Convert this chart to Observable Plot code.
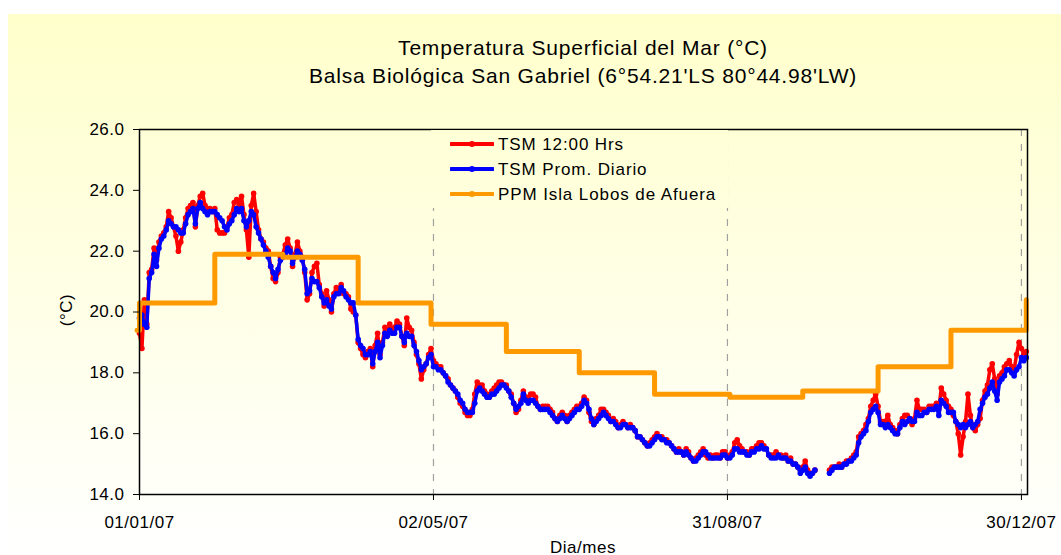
<!DOCTYPE html>
<html><head><meta charset="utf-8">
<script src="https://cdn.jsdelivr.net/npm/d3@7"></script>
<script src="https://cdn.jsdelivr.net/npm/@observablehq/plot@0.6"></script>
<style>
html,body{margin:0;padding:0;background:#fff;}
body{width:1061px;height:555px;overflow:hidden;position:relative;font-family:Arial,"Liberation Sans",sans-serif;color:#000;}
.grad{background:linear-gradient(to bottom,#FFFFCC 0px,#FFFFCC 20px,#FFFFFF 555px);background-attachment:fixed;}
#bg{position:absolute;left:8px;top:14px;width:1053px;height:541px;}
#title{position:absolute;left:139px;width:888px;top:34px;text-align:center;font-size:21px;line-height:28px;letter-spacing:0.8px;white-space:nowrap;}
#chart{position:absolute;left:0;top:0;}
#legend{position:absolute;left:431px;top:130px;width:297px;height:78px;}
#legend .row{position:absolute;left:19px;height:25px;line-height:25px;font-size:17px;letter-spacing:0.9px;white-space:nowrap;}
#legend svg{vertical-align:middle;margin-right:4px;position:relative;top:-2px;}
#xlab{position:absolute;left:139px;width:888px;top:539px;text-align:center;font-size:17px;line-height:17px;letter-spacing:0.5px;}
#ylab{position:absolute;left:37px;top:300px;width:60px;height:20px;line-height:20px;text-align:center;font-size:17px;letter-spacing:0.5px;transform:rotate(-90deg);}
</style></head>
<body>
<div id="bg" class="grad"></div>
<div id="title">Temperatura Superficial del Mar (°C)<br>Balsa Biológica San Gabriel (6°54.21'LS 80°44.98'LW)</div>
<div id="chart"></div>
<div id="legend" class="grad"></div>
<div id="xlab">Dia/mes</div>
<div id="ylab">(°C)</div>
<script>
// Daily series starting 01/01/2007 (index = day number)
const startDate = [2007, 0, 1];
const tsm1200 = [
19.3,18.8,20.4,19.6,21.3,21.4,22.1,21.7,22.3,22.5,
22.6,22.8,23.3,23.1,22.8,22.5,22.0,22.3,22.7,23.1,
23.4,23.5,23.6,22.8,23.5,23.8,23.9,23.5,23.4,23.4,
23.3,23.4,22.7,22.6,22.6,22.6,22.8,23.1,23.2,23.6,
23.7,23.5,23.8,23.2,22.7,21.8,23.5,23.9,23.3,22.7,
22.4,22.3,22.1,22.0,21.5,21.1,21.0,21.3,21.8,21.9,
22.2,22.4,22.1,21.5,21.9,22.3,22.0,21.8,21.3,20.4,
20.6,21.3,21.5,21.6,20.9,20.6,20.2,20.7,20.4,20.0,
20.6,20.8,20.7,20.9,20.6,20.6,20.5,20.1,20.0,19.9,
19.0,18.8,18.6,18.5,18.7,18.8,18.2,18.9,19.3,18.6,
19.0,19.5,19.3,19.6,19.4,19.5,19.7,19.6,19.2,18.9,
19.8,19.5,19.4,19.0,18.6,18.3,17.8,18.1,18.3,18.6,
18.8,18.4,18.3,18.2,18.2,18.0,17.9,17.8,17.6,17.5,
17.4,17.2,17.0,16.9,16.7,16.6,16.6,16.8,17.3,17.7,
17.6,17.6,17.4,17.3,17.2,17.4,17.5,17.6,17.7,17.7,
17.6,17.6,17.4,17.3,17.0,16.7,16.8,17.1,17.4,17.2,
17.1,17.3,17.3,17.2,16.9,16.8,16.9,16.9,16.9,16.8,
16.7,16.5,16.4,16.6,16.7,16.6,16.4,16.6,16.7,16.8,
16.9,16.9,17.0,17.2,17.1,16.7,16.4,16.3,16.5,16.6,
16.8,16.8,16.7,16.6,16.4,16.5,16.4,16.2,16.3,16.4,
16.3,16.2,16.3,16.2,16.1,15.9,15.9,15.8,15.7,15.6,
15.7,15.8,15.9,16.0,15.9,15.9,15.8,15.8,15.7,15.6,
15.5,15.4,15.5,15.4,15.3,15.5,15.4,15.2,15.1,15.2,
15.3,15.4,15.5,15.3,15.2,15.3,15.2,15.3,15.3,15.2,
15.4,15.4,15.2,15.3,15.4,15.7,15.8,15.6,15.5,15.4,
15.4,15.3,15.5,15.5,15.6,15.7,15.7,15.6,15.5,15.3,
15.3,15.3,15.4,15.3,15.3,15.2,15.3,15.1,15.2,15.0,
15.0,14.9,14.8,14.9,15.1,14.8,14.7,14.7,14.8,null,
null,null,null,null,14.8,14.9,14.9,14.9,15.0,14.9,
15.0,15.1,15.1,15.2,15.3,15.4,15.9,16.0,16.1,16.3,
16.5,16.9,17.1,17.3,16.9,16.4,16.4,16.4,16.6,16.3,
16.2,16.1,16.0,16.3,16.5,16.6,16.6,16.5,16.3,16.5,
17.1,16.8,16.8,16.8,16.7,16.9,16.9,16.9,17.0,16.8,
17.5,17.3,17.1,16.9,16.8,16.6,16.4,16.0,15.3,15.9,
16.4,17.3,16.6,16.2,16.1,16.3,16.5,17.1,17.4,17.6,
18.1,18.3,17.8,17.3,17.9,18.0,18.2,18.3,18.4,18.2,
18.1,18.6,19.0,18.8,18.6,18.7
];
const tsmPromDiario = [
19.8,19.9,19.6,19.5,21.1,21.3,21.9,21.5,22.1,22.4,
22.5,22.7,23.0,22.9,22.8,22.8,22.7,22.6,22.6,22.9,
23.2,23.3,23.4,22.9,23.4,23.6,23.4,23.3,23.2,23.3,
23.3,23.3,23.2,23.1,23.0,22.8,22.7,22.9,23.0,23.2,
23.4,23.3,23.4,23.0,22.8,23.0,23.3,23.2,22.8,22.6,
22.4,22.2,22.0,21.8,21.5,21.3,21.1,21.4,21.7,21.8,
21.9,22.1,22.0,21.6,21.8,22.0,21.9,21.7,21.4,20.6,
20.7,21.1,21.0,21.0,20.8,20.5,20.3,20.4,20.2,20.1,
20.5,20.6,20.6,20.8,20.7,20.5,20.4,20.3,20.3,19.9,
19.1,18.9,18.8,18.6,18.6,18.7,18.3,18.7,19.0,18.5,
18.9,19.3,19.2,19.4,19.3,19.3,19.5,19.5,19.2,19.0,
19.3,19.2,19.2,18.9,18.7,18.4,18.1,18.2,18.3,18.5,
18.6,18.2,18.2,18.1,18.1,18.0,17.9,17.7,17.6,17.5,
17.4,17.3,17.1,17.0,16.8,16.7,16.7,16.7,17.0,17.4,
17.5,17.4,17.3,17.2,17.2,17.3,17.3,17.4,17.5,17.6,
17.6,17.5,17.4,17.2,17.0,16.8,16.9,17.0,17.3,17.1,
17.0,17.1,17.1,17.0,16.9,16.8,16.8,16.8,16.8,16.7,
16.6,16.5,16.4,16.5,16.6,16.5,16.4,16.5,16.6,16.7,
16.8,16.8,16.9,17.1,17.0,16.8,16.5,16.3,16.4,16.5,
16.6,16.7,16.6,16.5,16.4,16.4,16.3,16.2,16.2,16.3,
16.3,16.2,16.2,16.2,16.1,15.9,15.9,15.8,15.7,15.6,
15.6,15.7,15.8,15.9,15.9,15.8,15.8,15.7,15.7,15.6,
15.5,15.4,15.4,15.4,15.3,15.4,15.3,15.2,15.1,15.1,
15.2,15.3,15.4,15.4,15.3,15.2,15.2,15.2,15.2,15.2,
15.3,15.3,15.2,15.2,15.3,15.5,15.5,15.4,15.4,15.4,
15.3,15.3,15.4,15.4,15.5,15.5,15.6,15.5,15.5,15.3,
15.2,15.2,15.2,15.3,15.2,15.2,15.2,15.1,15.1,15.0,
15.0,14.9,14.7,14.8,14.9,14.7,14.6,14.7,14.8,null,
null,null,null,null,14.7,14.8,14.9,14.9,14.9,14.9,
15.0,15.0,15.1,15.1,15.2,15.3,15.7,15.9,16.0,16.1,
16.4,16.7,16.8,16.9,16.7,16.3,16.3,16.2,16.3,16.2,
16.1,16.0,16.0,16.2,16.4,16.3,16.4,16.5,16.4,16.4,
16.7,16.6,16.6,16.7,16.7,16.8,16.8,16.8,16.9,16.6,
17.1,17.0,16.9,16.7,16.7,16.7,16.4,16.3,16.2,16.3,
16.2,16.3,16.4,16.2,16.3,16.4,16.8,17.0,17.2,17.3,
17.5,17.7,17.4,17.1,17.7,17.8,17.9,18.1,18.1,18.0,
17.9,18.1,18.2,18.5,18.4,18.5
];
// PPM Isla Lobos de Afuera (monthly pattern, step series)
const ppmDates = ["2006-12-31","2007-01-01","2007-02-01","2007-03-01","2007-04-01","2007-05-01","2007-06-01","2007-07-01","2007-08-01","2007-09-01","2007-10-01","2007-11-01","2007-12-01","2008-01-01"];
const ppmValues = [19.4,20.3,21.9,21.8,20.3,19.6,18.7,18.0,17.3,17.2,17.4,18.2,19.4,20.4];
// Axes
const xTickDates = ["2007-01-01","2007-05-02","2007-08-31","2007-12-30"];
const yTicks = [14,16,18,20,22,24,26];
const seriesNames = ["TSM 12:00 Hrs","TSM Prom. Diario","PPM Isla Lobos de Afuera"];
const seriesColors = ["#FF0000","#0000FF","#FF9900"];

const dayDate = i => new Date(Date.UTC(startDate[0], startDate[1], startDate[2] + i));
const red = tsm1200.map((v,i)=>({date:dayDate(i), v}));
const blue = tsmPromDiario.map((v,i)=>({date:dayDate(i), v}));
const ppm = ppmDates.map((d,i)=>({date:new Date(d+"T00:00:00Z"), v:ppmValues[i]}));
const xt = xTickDates.map(d=>new Date(d+"T00:00:00Z"));

const chart = Plot.plot({
  width:1061, height:555,
  marginLeft:139, marginRight:34, marginTop:129, marginBottom:61,
  style:{background:"transparent", fontFamily:"Arial, 'Liberation Sans', sans-serif", fontSize:"17px", color:"#000", overflow:"visible", letterSpacing:"0.5px"},
  x:{type:"utc", domain:[new Date(Date.UTC(2007,0,1)), new Date(Date.UTC(2008,0,1,12))]},
  y:{domain:[14,26]},
  marks:[
    Plot.ruleX(xt.slice(1), {stroke:"#a0a0a0", strokeWidth:1.2, strokeDasharray:"7,8"}),
    Plot.line(red, {x:"date", y:"v", stroke:seriesColors[0], strokeWidth:3.5}),
    Plot.dot(red, {x:"date", y:"v", fill:seriesColors[0], r:2.8, stroke:null}),
    Plot.line(blue, {x:"date", y:"v", stroke:seriesColors[1], strokeWidth:3.5}),
    Plot.dot(blue, {x:"date", y:"v", fill:seriesColors[1], r:2.8, stroke:null}),
    Plot.line(ppm, {x:"date", y:"v", curve:"step-after", stroke:seriesColors[2], strokeWidth:5, clip:false}),
    Plot.frame({stroke:"#000", strokeWidth:1.5}),
    Plot.axisX({ticks:xt, tickFormat:d3.utcFormat("%d/%m/%y"), tickSize:6, tickPadding:15, label:null}),
    Plot.axisY({ticks:yTicks, tickFormat:d=>d.toFixed(1), tickSize:6, tickPadding:9, label:null})
  ]
});
document.getElementById("chart").appendChild(chart);

// Legend
const leg = document.getElementById("legend");
seriesNames.forEach((name,i)=>{
  const row = document.createElement("div");
  row.className = "row";
  row.style.top = (2 + i*25) + "px";
  row.innerHTML = `<svg width="44" height="10"><line x1="1" y1="5" x2="43" y2="5" stroke="${seriesColors[i]}" stroke-width="4" stroke-linecap="round"/><circle cx="22" cy="5" r="3" fill="${seriesColors[i]}"/></svg>${name}`;
  leg.appendChild(row);
});
</script>
</body></html>
